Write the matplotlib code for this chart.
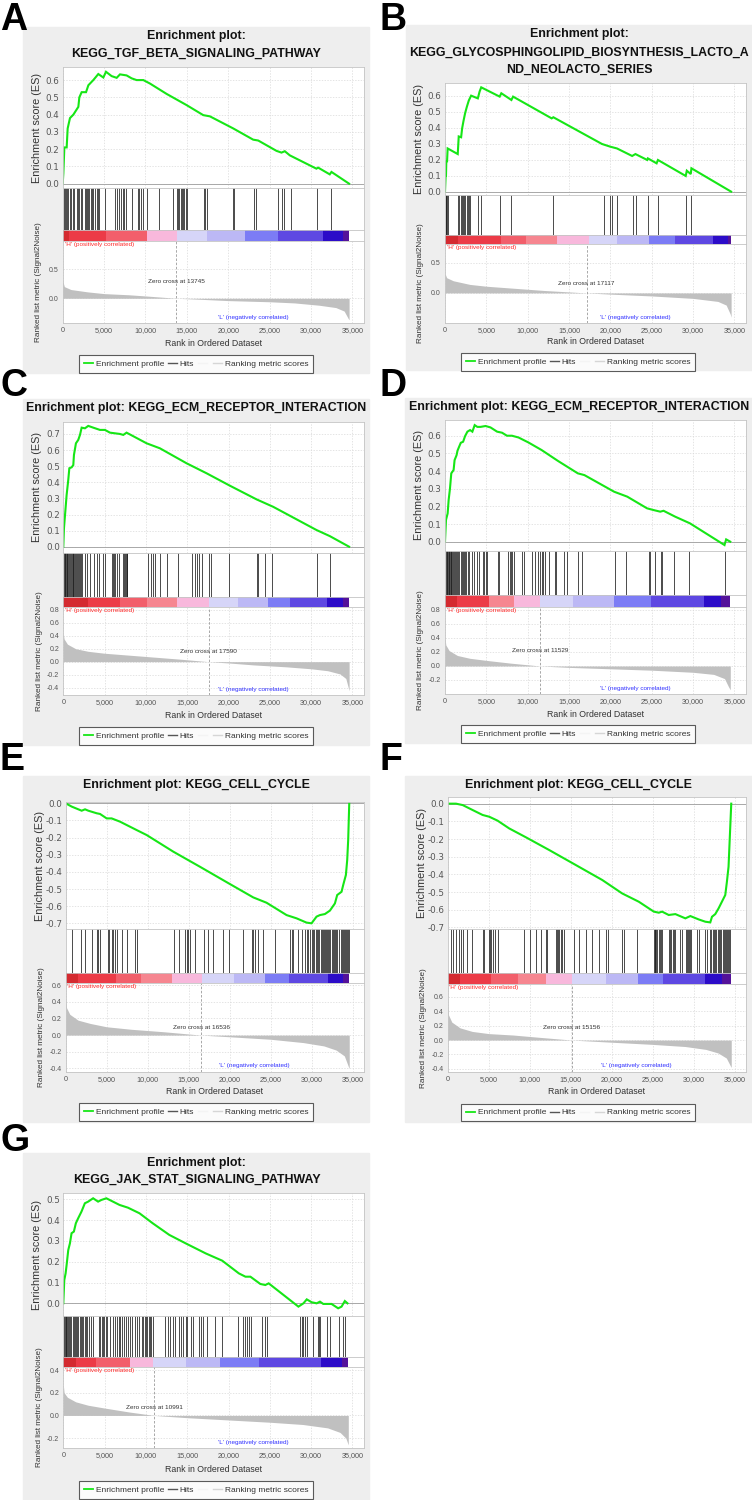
import matplotlib.pyplot as plt
from matplotlib.patches import Rectangle
from matplotlib.lines import Line2D

plt.rcParams['font.family'] = ['Liberation Sans', 'DejaVu Sans']

W, H = 752, 1500
X_MAX = 36400
X_TICKS = [0, 5000, 10000, 15000, 20000, 25000, 30000, 35000]

# colour bands of the ranked list, red (high) to blue (low)
BAND_COLORS = ['#d42a30', '#ec3b47', '#f25f6b', '#f68690', '#f8b8dc', '#d6d5f8',
               '#bcb8f5', '#7c7cf5', '#5e48e2', '#2c0cc8', '#54129a']

# ---------------- A ----------------
A_TITLE = ["Enrichment plot:", "KEGG_TGF_BETA_SIGNALING_PATHWAY"]
A_ES_RANK = [0, 80, 200, 480, 600, 880, 1290, 1690, 1890, 2010, 2290, 2820, 3100, 3700,
             4300, 4910, 5230, 5910, 6520, 6920, 7720, 8330, 8930, 9740, 10540, 12550,
             14970, 16980, 17780, 20600, 23010, 23620, 25830, 26430, 26830, 27440, 30650,
             30860, 32260, 32470, 34600]
A_ES = [0, 0.06, 0.21, 0.21, 0.32, 0.38, 0.40, 0.43, 0.445, 0.50, 0.53, 0.53, 0.57, 0.60,
        0.635, 0.615, 0.648, 0.623, 0.613, 0.633, 0.627, 0.61, 0.60, 0.60, 0.58, 0.52,
        0.455, 0.397, 0.39, 0.32, 0.255, 0.25, 0.19, 0.18, 0.188, 0.164, 0.087,
        0.093, 0.054, 0.068, 0.0]
A_HITS = [160, 280, 400, 480, 680, 890, 1010, 1210, 1370, 1690, 1850, 2010, 2170, 2290,
          2700, 2820, 2980, 3100, 3220, 3380, 3500, 3700, 3900, 4100, 4220, 4350, 5150,
          6280, 6520, 6800, 7000, 7240, 7400, 7640, 8330, 9130, 9250, 9410, 9740, 10140,
          11630, 13360, 13800, 13960, 14080, 14240, 14360, 14560, 14680, 14850, 15050,
          17060, 17220, 17460, 20600, 20680, 23170, 23330, 26030, 26550, 26710, 27640,
          30780, 32390]
A_METRIC_RANK = [0, 200, 1000, 3000, 5000, 8000, 10000, 13745, 17000, 20000, 25000,
                 28000, 31000, 33000, 34000, 34500, 34600]
A_METRIC = [0.30, 0.20, 0.15, 0.11, 0.08, 0.06, 0.04, 0.0, -0.02, -0.04, -0.06,
            -0.08, -0.12, -0.16, -0.22, -0.35, -0.37]
A_ZERO = 13745
A_BANDS = [0, 800, 5230, 10140, 10140, 13760, 17380, 22000, 26030, 31460, 33870, 34600]

# ---------------- B ----------------
B_TITLE = ["Enrichment plot:", "KEGG_GLYCOSPHINGOLIPID_BIOSYNTHESIS_LACTO_A",
           "ND_NEOLACTO_SERIES"]
B_ES_RANK = [0, 80, 120, 160, 250, 320, 1540, 1660, 1950, 2070, 2230, 2430, 2640, 2880,
             3160, 3970, 4180, 4380, 6610, 6810, 8030, 8230, 12900, 13100, 18980, 19990,
             20800, 22630, 23030, 24450, 24530, 25590, 25750, 29110, 29240, 29720, 29800,
             34600]
B_ES = [0, 0.10, 0.10, 0.19, 0.19, 0.27, 0.235, 0.345, 0.34, 0.395, 0.44, 0.49, 0.53,
        0.57, 0.60, 0.583, 0.625, 0.652, 0.594, 0.615, 0.573, 0.594, 0.458, 0.465, 0.298,
        0.281, 0.27, 0.223, 0.235, 0.198, 0.208, 0.177, 0.198, 0.098, 0.131, 0.11, 0.146,
        0.0]
B_HITS = [80, 160, 240, 320, 1540, 1660, 1950, 2070, 2230, 2350, 2470, 2640, 2760, 2880,
          3080, 3970, 4300, 6690, 8030, 13020, 19180, 19990, 20190, 20800, 22750, 23150,
          24530, 25750, 29120, 29720]
B_METRIC_RANK = [0, 200, 1000, 3000, 5000, 8000, 12000, 17117, 20000, 25000, 30000,
                 33000, 34000, 34500, 34600]
B_METRIC = [0.32, 0.25, 0.20, 0.14, 0.11, 0.08, 0.04, 0.0, -0.02, -0.05, -0.09, -0.14,
            -0.20, -0.35, -0.40]
B_ZERO = 17117
B_BANDS = [0, 1540, 6810, 9850, 13500, 17360, 20800, 24650, 27820, 32440, 34180, 34600]

# ---------------- C ----------------
C_TITLE = ["Enrichment plot: KEGG_ECM_RECEPTOR_INTERACTION"]
C_ES_RANK = [0, 80, 240, 400, 600, 730, 1010, 1210, 1290, 1530, 1810, 2020, 2220, 2620,
             3020, 3630, 4440, 5040, 5650, 6850, 7260, 7660, 10080, 11690, 14920, 17340,
             20160, 23390, 25400, 30640, 32260, 34600]
C_ES = [0, 0.114, 0.217, 0.32, 0.414, 0.487, 0.493, 0.507, 0.57, 0.642, 0.663, 0.694,
        0.739, 0.735, 0.75, 0.739, 0.725, 0.725, 0.708, 0.70, 0.694, 0.708, 0.642, 0.611,
        0.518, 0.456, 0.379, 0.294, 0.248, 0.104, 0.066, 0.0]
C_HITS = [80, 160, 240, 320, 400, 480, 600, 690, 810, 890, 1010, 1130, 1210, 1290, 1410,
          1530, 1610, 1730, 1860, 2020, 2140, 2220, 2620, 2820, 3230, 3750, 4030, 4310,
          4840, 5040, 5850, 5970, 6130, 6290, 6450, 6770, 7260, 7380, 7500, 7580, 7660,
          7740, 10280, 10560, 10810, 11090, 11690, 12500, 13910, 15520, 15930, 16130,
          16410, 16770, 17660, 17860, 20040, 23390, 23510, 24390, 25320, 30720, 32340]
C_METRIC_RANK = [0, 100, 500, 1500, 3000, 5000, 8000, 11000, 14000, 17590, 20000, 23000,
                 27000, 30000, 32000, 33500, 34200, 34600]
C_METRIC = [0.44, 0.35, 0.27, 0.20, 0.16, 0.13, 0.10, 0.07, 0.04, 0.0, -0.02, -0.05,
            -0.08, -0.11, -0.14, -0.19, -0.26, -0.45]
C_ZERO = 17590
C_BANDS = [0, 3000, 6850, 10080, 13710, 17620, 21170, 24800, 27500, 31930, 33870, 34600]

# ---------------- D ----------------
D_TITLE = ["Enrichment plot: KEGG_ECM_RECEPTOR_INTERACTION"]
D_ES_RANK = [0, 120, 320, 440, 600, 760, 1040, 1160, 1400, 1510, 1710, 1910, 2190, 2430,
             2710, 3030, 3310, 3590, 3910, 4300, 4900, 5500, 6300, 6900, 7490, 8090, 8890,
             10080, 11680, 13670, 16060, 16860, 20450, 22040, 24430, 25230, 26030, 26430,
             27820, 29620, 33800, 34000, 34500]
D_ES = [0, 0.123, 0.16, 0.236, 0.30, 0.387, 0.406, 0.462, 0.49, 0.515, 0.538, 0.56,
        0.566, 0.598, 0.623, 0.632, 0.623, 0.66, 0.65, 0.65, 0.655, 0.647, 0.623, 0.617,
        0.60, 0.60, 0.59, 0.562, 0.519, 0.457, 0.387, 0.377, 0.283, 0.255, 0.189, 0.179,
        0.17, 0.175, 0.142, 0.104, -0.019, 0.013, 0.0]
D_HITS = [120, 200, 280, 360, 440, 520, 600, 680, 760, 840, 960, 1080, 1200, 1320, 1440,
          1590, 1710, 1910, 2030, 2190, 2310, 2430, 2590, 2750, 2910, 3310, 3510, 3910,
          4110, 4580, 4700, 4900, 5100, 6420, 6580, 7610, 7890, 8010, 8090, 8290, 9290,
          9610, 10480, 10880, 11200, 11480, 11680, 11880, 12080, 12560, 13270, 13470,
          14390, 14790, 16140, 16540, 20530, 21840, 24630, 24830, 25430, 26110, 26270,
          27740, 29540, 33920]
D_METRIC_RANK = [0, 100, 500, 1500, 3000, 5000, 8000, 11529, 15000, 20000, 25000, 30000,
                 32500, 33800, 34300, 34500]
D_METRIC = [0.40, 0.30, 0.22, 0.15, 0.11, 0.08, 0.04, 0.0, -0.02, -0.04, -0.06, -0.09,
            -0.12, -0.18, -0.30, -0.34]
D_ZERO = 11529
D_BANDS = [0, 1500, 5300, 5300, 8290, 11480, 15470, 20450, 24910, 31330, 33400, 34500]

# ---------------- E ----------------
E_TITLE = ["Enrichment plot: KEGG_CELL_CYCLE"]
E_ES_RANK = [0, 730, 1540, 1950, 2360, 2760, 3780, 4190, 5000, 5610, 6630, 8660, 9880,
             13130, 16380, 20040, 22890, 24510, 26950, 28170, 29390, 30000, 30610, 31020,
             31630, 32240, 32850, 33130, 33660, 33860, 34190, 34350, 34470, 34600]
E_ES = [0, -0.019, -0.035, -0.043, -0.035, -0.043, -0.058, -0.062, -0.088, -0.088,
        -0.107, -0.156, -0.185, -0.282, -0.37, -0.471, -0.549, -0.58, -0.652, -0.671,
        -0.696, -0.70, -0.661, -0.652, -0.646, -0.626, -0.584, -0.535, -0.516, -0.477,
        -0.418, -0.331, -0.214, 0.0]
E_HITS = [730, 1830, 2360, 3170, 3780, 3980, 4190, 5200, 5330, 5610, 5810, 6020, 6220,
          6830, 7440, 8460, 8740, 13210, 13860, 14550, 14760, 14960, 15160, 15770, 16870,
          17400, 18010, 19150, 19960, 21670, 22680, 22890, 23090, 23500, 24110, 25530,
          27360, 27560, 27760, 28290, 28780, 29190, 29390, 29590, 29800, 30000, 30200,
          30330, 30530, 30690, 30810, 30940, 31100, 31220, 31340, 31500, 31630, 31750,
          31910, 32030, 32160, 32280, 32440, 32560, 32720, 32850, 32970, 33130, 33370,
          33540, 33660, 33780, 33940, 34070, 34190, 34310, 34430, 34550]
E_METRIC_RANK = [0, 100, 500, 1500, 3000, 5000, 8000, 12000, 16536, 20000, 25000, 29000,
                 31500, 33000, 34000, 34500, 34600]
E_METRIC = [0.42, 0.33, 0.25, 0.18, 0.14, 0.10, 0.07, 0.04, 0.0, -0.02, -0.05, -0.09,
            -0.13, -0.18, -0.25, -0.38, -0.40]
E_ZERO = 16536
E_BANDS = [0, 1500, 6080, 9130, 12980, 16630, 20480, 24330, 27290, 32040, 33860, 34600]

# ---------------- F ----------------
F_TITLE = ["Enrichment plot: KEGG_CELL_CYCLE"]
F_ES_RANK = [0, 1010, 1830, 3040, 4260, 5070, 6080, 7500, 9530, 12370, 15620, 18860,
             21290, 23320, 25150, 25760, 26160, 26970, 27780, 29000, 29610, 30620, 31430,
             32040, 32250, 32650, 33060, 33460, 33870, 34070, 34270, 34480, 34600]
F_ES = [0, 0, -0.008, -0.036, -0.064, -0.074, -0.096, -0.14, -0.19, -0.262, -0.347,
        -0.432, -0.508, -0.555, -0.611, -0.617, -0.611, -0.63, -0.625, -0.649, -0.636,
        -0.655, -0.668, -0.672, -0.64, -0.625, -0.592, -0.555, -0.517, -0.442, -0.357,
        -0.13, 0.0]
F_HITS = [410, 690, 1010, 1340, 1620, 1910, 2310, 2960, 4340, 4460, 4990, 5150, 5310,
          5560, 5800, 6130, 9330, 10060, 10830, 11440, 11970, 12170, 13180, 13390, 13510,
          13590, 13790, 13990, 14200, 15410, 16020, 16830, 17640, 18460, 19350, 19590,
          21210, 21500, 23120, 25150, 25270, 25350, 25470, 25590, 25760, 25960, 26080,
          26160, 26970, 27180, 27300, 27460, 27580, 27700, 28390, 28600, 29080, 29200,
          29330, 29490, 29610, 29730, 30420, 30620, 31430, 31640, 32040, 32160, 32330,
          32450, 32570, 32730, 32980, 33140, 33260, 33380, 33540, 33670, 33790, 33950,
          34070, 34190, 34350, 34480]
F_METRIC_RANK = [0, 100, 500, 1500, 3000, 5000, 8000, 11000, 15156, 20000, 25000, 29000,
                 31500, 33000, 34000, 34500, 34600]
F_METRIC = [0.47, 0.35, 0.25, 0.17, 0.12, 0.09, 0.07, 0.04, 0.0, -0.03, -0.06, -0.09,
            -0.13, -0.18, -0.25, -0.36, -0.38]
F_ZERO = 15156
F_BANDS = [0, 1500, 5270, 8520, 11960, 15210, 19270, 23200, 26240, 31350, 33460, 34600]

# ---------------- G ----------------
G_TITLE = ["Enrichment plot:", "KEGG_JAK_STAT_SIGNALING_PATHWAY"]
G_ES_RANK = [0, 120, 280, 400, 600, 800, 1000, 1280, 1520, 1800, 2200, 2610, 3010, 3610,
             4210, 4610, 5210, 6010, 6810, 7820, 9220, 10820, 12830, 14830, 17240, 19240,
             21250, 22050, 22650, 23850, 24450, 24860, 28460, 29070, 29470, 30070, 30670,
             31070, 31470, 32470, 33270, 33680, 34080, 34400]
G_ES = [0, 0.112, 0.144, 0.184, 0.256, 0.288, 0.337, 0.345, 0.385, 0.409, 0.441, 0.481,
        0.489, 0.505, 0.489, 0.497, 0.505, 0.489, 0.473, 0.46, 0.433, 0.385, 0.329, 0.288,
        0.24, 0.205, 0.144, 0.128, 0.128, 0.093, 0.088, 0.096, -0.016, 0.0, 0.019, 0.005,
        0.0, 0.008, -0.003, -0.003, -0.024, -0.016, 0.011, 0.0]
G_HITS = [80, 160, 280, 360, 480, 600, 720, 840, 960, 1120, 1280, 1400, 1520, 1680, 1800,
          2010, 2130, 2290, 2410, 2570, 2730, 2890, 3130, 3410, 3610, 4330, 4490, 4650,
          4810, 4970, 5130, 5290, 5610, 6010, 6250, 6500, 6740, 6900, 7140, 7340, 7540,
          7820, 8100, 8340, 8620, 8900, 9140, 9540, 9700, 9860, 10020, 10180, 10340,
          10500, 10660, 10820, 12350, 12630, 12910, 13310, 13550, 13950, 14230, 14510,
          14830, 15030, 15440, 15640, 16440, 16640, 16920, 17440, 18360, 19160, 21170,
          21730, 21970, 22250, 22530, 22690, 24050, 24460, 24660, 28700, 28870, 29070,
          29270, 29470, 30270, 30790, 30950, 31070, 31870, 32270, 33360, 33800, 34080]
G_METRIC_RANK = [0, 100, 500, 1500, 3000, 5000, 8000, 10991, 15000, 20000, 25000, 29000,
                 32000, 33500, 34200, 34500]
G_METRIC = [0.27, 0.20, 0.16, 0.12, 0.09, 0.065, 0.03, 0.0, -0.02, -0.04, -0.06, -0.08,
            -0.11, -0.15, -0.20, -0.26]
G_ZERO = 10991
G_BANDS = [0, 1500, 4010, 8020, 8020, 10900, 14830, 18920, 23650, 31190, 33680, 34500]

PANELS = [
    ("A", A_TITLE, A_ES_RANK, A_ES, A_HITS, A_METRIC_RANK, A_METRIC, A_ZERO, A_BANDS),
    ("B", B_TITLE, B_ES_RANK, B_ES, B_HITS, B_METRIC_RANK, B_METRIC, B_ZERO, B_BANDS),
    ("C", C_TITLE, C_ES_RANK, C_ES, C_HITS, C_METRIC_RANK, C_METRIC, C_ZERO, C_BANDS),
    ("D", D_TITLE, D_ES_RANK, D_ES, D_HITS, D_METRIC_RANK, D_METRIC, D_ZERO, D_BANDS),
    ("E", E_TITLE, E_ES_RANK, E_ES, E_HITS, E_METRIC_RANK, E_METRIC, E_ZERO, E_BANDS),
    ("F", F_TITLE, F_ES_RANK, F_ES, F_HITS, F_METRIC_RANK, F_METRIC, F_ZERO, F_BANDS),
    ("G", G_TITLE, G_ES_RANK, G_ES, G_HITS, G_METRIC_RANK, G_METRIC, G_ZERO, G_BANDS),
]

# layout in pixels of the 752x1500 canvas
LAYOUT = {
    "A": dict(box=(23, 27, 369, 373), letter=(0, 2), title_x=196, title_y=[36, 54],
              left=62.7, right=364, es=(67.3, 188), cb=(230, 240.7), bot=322.7,
              xlab_y=343.3, leg=(196, 364), es_lim=(-0.025, 0.674), met_lim=(-0.42, 0.99),
              es_ticks=[0, .1, .2, .3, .4, .5, .6], met_ticks=[0, .5]),
    "B": dict(box=(406, 25, 752, 370), letter=(380, 2), title_x=579, title_y=[34, 52.3, 70],
              left=445, right=746, es=(82.7, 195), cb=(235, 244.3), bot=322.7,
              xlab_y=341.7, leg=(578, 361.7), es_lim=(-0.021, 0.681), met_lim=(-0.49, 0.80),
              es_ticks=[0, .1, .2, .3, .4, .5, .6], met_ticks=[0, .5]),
    "C": dict(box=(23, 399.3, 369, 745), letter=(0, 368), title_x=196, title_y=[408.3],
              left=63.3, right=364, es=(421.7, 552.7), cb=(596.7, 607.3), bot=695,
              xlab_y=715, leg=(196, 735.8), es_lim=(-0.037, 0.776), met_lim=(-0.515, 0.84),
              es_ticks=[0, .1, .2, .3, .4, .5, .6, .7],
              met_ticks=[-.4, -.2, 0, .2, .4, .6, .8]),
    "D": dict(box=(405.3, 398.3, 752, 743.3), letter=(380, 368), title_x=578.7,
              title_y=[406.7], left=445, right=746, es=(420, 550.7), cb=(595.3, 606.7),
              bot=694, xlab_y=714.3, leg=(578, 734.3), es_lim=(-0.051, 0.689),
              met_lim=(-0.40, 0.847), es_ticks=[0, .1, .2, .3, .4, .5, .6],
              met_ticks=[-.2, 0, .2, .4, .6, .8]),
    "E": dict(box=(23, 776, 369, 1121.7), letter=(0, 742), title_x=196.7, title_y=[785],
              left=65.7, right=364, es=(802.3, 929.3), cb=(972.7, 983.3), bot=1071.7,
              xlab_y=1091.7, leg=(196, 1112.3), es_lim=(-0.735, 0.006),
              met_lim=(-0.44, 0.623), es_ticks=[-.7, -.6, -.5, -.4, -.3, -.2, -.1, 0],
              met_ticks=[-.4, -.2, 0, .2, .4, .6]),
    "F": dict(box=(405.3, 776, 752, 1121.7), letter=(380, 742), title_x=578.7,
              title_y=[785], left=447.7, right=746, es=(797.3, 929.3), cb=(972.7, 984),
              bot=1071.7, xlab_y=1092, leg=(578, 1112.5), es_lim=(-0.711, 0.036),
              met_lim=(-0.44, 0.78), es_ticks=[-.7, -.6, -.5, -.4, -.3, -.2, -.1, 0],
              met_ticks=[-.4, -.2, 0, .2, .4, .6]),
    "G": dict(box=(23, 1153.3, 369, 1500), letter=(0, 1123), title_x=196.7,
              title_y=[1162.7, 1180], left=63.3, right=364, es=(1193.3, 1316),
              cb=(1356.7, 1366.7), bot=1448.3, xlab_y=1470, leg=(196, 1490),
              es_lim=(-0.061, 0.529), met_lim=(-0.29, 0.43),
              es_ticks=[0, .1, .2, .3, .4, .5], met_ticks=[-.2, 0, .2, .4]),
}


def fx(x):
    return x / W


def fy(y):
    return 1 - y / H


def add_ax(fig, left, right, top, bot):
    ax = fig.add_axes([fx(left), fy(bot), (right - left) / W, (bot - top) / H])
    for s in ax.spines.values():
        s.set_color('#c4c4c4')
        s.set_linewidth(0.6)
    ax.set_xlim(0, X_MAX)
    ax.set_axisbelow(True)
    return ax


def draw_panel(fig, name, title, es_rank, es, hits, m_rank, metric, zero, bands):
    L = LAYOUT[name]
    x0, y0, x1, y1 = L["box"]
    fig.patches.append(Rectangle((fx(x0), fy(y1)), (x1 - x0) / W, (y1 - y0) / H,
                                 transform=fig.transFigure, color='#eeeeee', zorder=-5))
    fig.text(fx(L["letter"][0]), fy(L["letter"][1]), name, fontsize=27,
             fontweight='bold', va='top', ha='left')
    for t, ty in zip(title, L["title_y"]):
        fig.text(fx(L["title_x"]), fy(ty), t, ha='center', va='center', fontsize=8.9,
                 fontweight='bold', color='#111111')

    left, right = L["left"], L["right"]
    grid_kw = dict(color='#d9d9d9', linestyle=(0, (2, 2)), linewidth=0.5)

    # enrichment score
    ax = add_ax(fig, left, right, L["es"][0], L["es"][1])
    ax.plot(es_rank, es, color='#16e616', lw=1.5, solid_joinstyle='miter')
    ax.axhline(0, color='#a8a8a8', lw=0.7, zorder=1)
    ax.set_ylim(*L["es_lim"])
    ax.set_yticks(L["es_ticks"])
    ax.set_yticklabels([f"{v:.1f}" for v in L["es_ticks"]], family='DejaVu Sans',
                       fontsize=6.3, color='#555555')
    ax.set_xticks(X_TICKS)
    ax.set_xticklabels([])
    ax.tick_params(length=0, pad=2.5)
    ax.grid(True, **grid_kw)
    fig.text(fx(left - 26), fy((L["es"][0] + L["es"][1]) / 2), "Enrichment score (ES)",
             rotation=90, ha='center', va='center', fontsize=7.8, color='#333333')

    # hits
    ax = add_ax(fig, left, right, L["es"][1], L["cb"][0])
    ax.vlines(hits, 0, 1, color='#1a1a1a', lw=0.55)
    ax.set_ylim(0, 1)
    ax.set_xticks([])
    ax.set_yticks([])

    # colour bar of the ranked list
    ax = add_ax(fig, left, right, L["cb"][0], L["cb"][1])
    for i, c in enumerate(BAND_COLORS):
        if bands[i + 1] > bands[i]:
            ax.axvspan(bands[i], bands[i + 1], color=c, lw=0)
    ax.set_xticks([])
    ax.set_yticks([])

    # ranked list metric
    ax = add_ax(fig, left, right, L["cb"][1], L["bot"])
    ax.fill_between(m_rank, metric, 0, color='#c0c0c0', lw=0)
    ax.axvline(zero, color='#9a9a9a', lw=0.6, linestyle=(0, (3, 2)))
    ax.set_ylim(*L["met_lim"])
    ax.set_yticks(L["met_ticks"])
    ax.set_yticklabels([f"{v:.1f}" for v in L["met_ticks"]], fontsize=5,
                       color='#555555')
    ax.set_xticks(X_TICKS)
    ax.set_xticklabels([f"{v:,}" for v in X_TICKS], fontsize=5.2, color='#555555')
    ax.tick_params(length=0, pad=3)
    ax.grid(True, **grid_kw)
    ax.text(0.006, 0.99, "'H' (positively correlated)", transform=ax.transAxes,
            ha='left', va='top', fontsize=4.6, color='#ff2a2a')
    ax.text(0.633, 0.065, "'L' (negatively correlated)", transform=ax.transAxes,
            ha='center', va='center', fontsize=4.6, color='#3030ff')
    ax.text(zero, 0.5, f"Zero cross at {zero}", transform=ax.get_xaxis_transform(),
            ha='center', va='center', fontsize=4.6, color='#333333')
    fig.text(fx(left - 24), fy((L["cb"][1] + L["bot"]) / 2),
             "Ranked list metric (Signal2Noise)", rotation=90, ha='center',
             va='center', fontsize=5.9, color='#333333')
    fig.text(fx((left + right) / 2), fy(L["xlab_y"]), "Rank in Ordered Dataset",
             ha='center', va='center', fontsize=6.3, color='#333333')

    handles = [Line2D([], [], color='#16e616', lw=1.3),
               Line2D([], [], color='#555555', lw=1.0),
               Line2D([], [], color='#f4f4f4', lw=1.0),
               Line2D([], [], color='#d6d6d6', lw=1.0)]
    labels = ["Enrichment profile", "Hits", "", "Ranking metric scores"]
    leg = fig.legend(handles, labels, loc='center', ncol=4,
                     bbox_to_anchor=(fx(L["leg"][0]), fy(L["leg"][1])), fontsize=6.0,
                     frameon=True, fancybox=False, edgecolor='#333333',
                     handlelength=1.1, handletextpad=0.3, columnspacing=0.45,
                     borderpad=0.6, labelcolor='#333333')
    leg.get_frame().set_linewidth(0.8)


fig = plt.figure(figsize=(W / 100, H / 100), dpi=100)
for p in PANELS:
    draw_panel(fig, *p)

plt.savefig("out.png", dpi=100)
